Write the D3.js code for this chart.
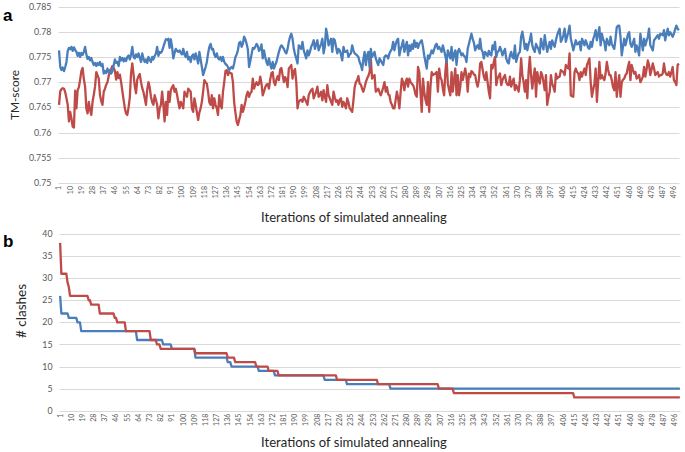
<!DOCTYPE html>
<html>
<head>
<meta charset="utf-8">
<script src="https://cdn.jsdelivr.net/npm/d3@7"></script>
<style>
  html, body { margin: 0; padding: 0; background: #fff; }
  svg { display: block; }
</style>
</head>
<body>
<svg id="chart" width="685" height="452"></svg>
<script>
// ---------------- DATA ----------------
const tmTicks = [0.75, 0.755, 0.76, 0.765, 0.77, 0.775, 0.78, 0.785];
const tmTickLabels = ["0.75", "0.755", "0.76", "0.765", "0.77", "0.775", "0.78", "0.785"];
const clashTicks = [0, 5, 10, 15, 20, 25, 30, 35, 40];
const xTickLabels = [1,10,19,28,37,46,55,64,73,82,91,100,109,118,127,136,145,154,163,172,181,190,199,208,217,226,235,244,253,262,271,280,289,298,307,316,325,334,343,352,361,370,379,388,397,406,415,424,433,442,451,460,469,478,487,496];

// TM-score, blue series (iterations 1..500)
const tmBlue = [
0.7763,0.7730,0.7724,0.7729,0.7722,0.7730,0.7740,0.7762,0.7768,0.7765,
0.7770,0.7762,0.7769,0.7764,0.7760,0.7752,0.7758,0.7750,0.7758,0.7754,
0.7760,0.7770,0.7755,0.7746,0.7750,0.7743,0.7748,0.7740,0.7734,0.7738,
0.7732,0.7738,0.7734,0.7740,0.7732,0.7736,0.7717,0.7722,0.7718,0.7727,
0.7720,0.7724,0.7717,0.7722,0.7733,0.7745,0.7738,0.7740,0.7732,0.7750,
0.7743,0.7748,0.7741,0.7747,0.7742,0.7750,0.7753,0.7745,0.7755,0.7770,
0.7750,0.7747,0.7755,0.7750,0.7757,0.7748,0.7740,0.7757,0.7746,0.7740,
0.7745,0.7738,0.7750,0.7744,0.7740,0.7750,0.7745,0.7752,0.7757,0.7770,
0.7752,0.7760,0.7758,
0.7762,0.7770,0.7778,0.7785,0.7784,0.7786,0.7768,0.7785,0.7770,0.7747,
0.7758,0.7766,0.7762,0.7760,0.7763,0.7758,0.7755,0.7766,0.7755,0.7750,
0.7760,0.7745,0.7750,0.7740,0.7752,0.7755,0.7745,0.7757,0.7748,0.7737,
0.7760,0.7745,0.7730,0.7714,0.7722,0.7730,0.7740,0.7757,0.7770,0.7776,
0.7765,0.7766,0.7755,0.7750,0.7757,0.7748,0.7745,0.7750,0.7742,0.7750,
0.7740,0.7736,0.7734,0.7730,0.7724,0.7728,0.7730,0.7727,0.7737,0.7750,
0.7755,0.7763,0.7778,0.7780,0.7770,0.7776,0.7790,0.7785,0.7776,0.7765,
0.7730,0.7742,0.7755,0.7768,0.7766,0.7770,0.7776,0.7772,0.7762,0.7765,
0.7775,0.7747,
0.7763,0.7750,0.7740,0.7734,0.7747,0.7735,0.7727,0.7740,0.7727,0.7734,
0.7740,0.7750,0.7760,0.7768,0.7773,0.7770,0.7766,0.7760,0.7757,0.7766,
0.7780,0.7790,0.7796,0.7786,0.7766,0.7755,0.7747,0.7737,0.7773,0.7770,
0.7766,0.7780,0.7763,0.7755,0.7747,0.7763,0.7753,0.7760,0.7770,0.7776,
0.7783,0.7766,0.7775,0.7783,0.7763,0.7770,0.7776,0.7786,0.7757,0.7770,
0.7806,0.7793,0.7773,0.7780,0.7786,0.7760,0.7786,0.7783,0.7770,0.7757,
0.7766,0.7763,0.7755,0.7743,0.7770,0.7760,0.7760,0.7763,0.7750,0.7755,
0.7757,0.7773,0.7763,0.7757,0.7755,0.7753,0.7750,0.7740,0.7734,0.7724,
0.7745,0.7760,0.7734,0.7753,0.7760,0.7730,
0.7766,0.7750,0.7755,0.7760,0.7747,0.7740,0.7734,0.7747,0.7743,0.7738,
0.7734,0.7750,0.7753,0.7752,0.7747,0.7757,0.7762,0.7766,0.7780,0.7763,
0.7775,0.7783,0.7786,0.7753,0.7765,0.7773,0.7783,0.7760,0.7770,0.7780,
0.7753,0.7773,0.7762,0.7775,0.7766,0.7783,0.7770,0.7778,0.7768,0.7776,
0.7780,0.7783,0.7770,0.7753,0.7740,0.7727,0.7753,0.7747,0.7755,0.7763,
0.7757,0.7765,0.7773,0.7776,0.7766,0.7770,0.7765,0.7760,0.7773,0.7763,
0.7752,0.7740,0.7763,0.7755,0.7747,0.7770,0.7743,0.7755,0.7763,0.7734,
0.7760,0.7766,0.7760,0.7753,0.7757,0.7752,0.7750,0.7740,0.7766,0.7776,
0.7786,0.7796,0.7786,0.7778,
0.7763,0.7770,0.7773,0.7766,0.7786,0.7765,0.7760,0.7747,0.7760,0.7757,
0.7752,0.7762,0.7755,0.7753,0.7773,0.7765,0.7780,0.7750,0.7760,0.7762,
0.7770,0.7763,0.7753,0.7760,0.7766,0.7747,0.7740,0.7737,0.7753,0.7760,
0.7750,0.7747,0.7773,0.7740,0.7750,0.7757,0.7760,0.7790,0.7800,0.7785,
0.7766,0.7776,0.7763,0.7775,0.7783,0.7796,0.7773,0.7765,0.7760,0.7776,
0.7770,0.7765,0.7757,0.7786,0.7773,0.7765,0.7793,0.7776,0.7760,0.7770,
0.7780,0.7766,0.7783,0.7775,0.7770,0.7783,0.7793,0.7800,0.7806,0.7780,
0.7785,0.7793,0.7806,0.7780,0.7790,0.7799,0.7812,0.7786,0.7775,0.7763,
0.7773,0.7783,0.7775,
0.7776,0.7780,0.7763,0.7786,0.7780,0.7773,0.7783,0.7776,0.7768,0.7766,
0.7780,0.7770,0.7785,0.7793,0.7803,0.7783,0.7795,0.7809,0.7773,0.7796,
0.7785,0.7780,0.7763,0.7786,0.7778,0.7773,0.7790,0.7776,0.7770,0.7766,
0.7786,0.7809,0.7812,0.7812,0.7790,0.7753,0.7770,0.7786,0.7773,0.7783,
0.7795,0.7799,0.7776,0.7770,0.7778,0.7786,0.7760,0.7773,0.7765,0.7753,
0.7796,0.7780,0.7763,0.7786,0.7773,0.7782,0.7790,0.7806,0.7773,0.7768,
0.7763,0.7783,0.7786,0.7790,0.7793,0.7786,0.7796,0.7795,0.7793,0.7803,
0.7783,0.7795,0.7806,0.7793,0.7799,0.7795,0.7790,0.7796,0.7805,0.7812,
0.7806,0.7803
];

// TM-score, red series (iterations 1..500)
const tmRed = [
0.7655,0.7682,0.7686,0.7688,0.7687,0.7680,0.7668,0.7655,0.7622,0.7641,
0.7628,0.7612,0.7610,0.7683,0.7648,0.7684,0.7690,0.7705,0.7722,0.7728,
0.7706,0.7691,0.7648,0.7638,0.7661,0.7645,0.7635,0.7661,0.7675,0.7691,
0.7720,0.7714,0.7707,0.7674,0.7662,0.7655,0.7681,0.7687,0.7695,0.7700,
0.7712,0.7722,0.7726,0.7732,0.7728,0.7722,0.7705,0.7720,0.7708,0.7715,
0.7700,0.7682,0.7665,0.7648,0.7638,0.7635,0.7650,0.7670,0.7718,0.7737,
0.7715,0.7692,0.7678,0.7705,0.7712,0.7716,0.7700,0.7688,0.7680,0.7668,
0.7655,0.7685,0.7700,0.7690,0.7671,0.7660,0.7655,0.7674,0.7665,0.7655,
0.7628,0.7648,0.7655,
0.7681,0.7655,0.7622,0.7661,0.7635,0.7681,0.7661,0.7684,0.7690,0.7694,
0.7681,0.7687,0.7675,0.7661,0.7648,0.7661,0.7655,0.7648,0.7681,0.7675,
0.7671,0.7687,0.7684,0.7681,0.7648,0.7641,0.7668,0.7655,0.7640,0.7625,
0.7640,0.7648,0.7661,0.7681,0.7704,0.7700,0.7697,0.7681,0.7660,0.7655,
0.7674,0.7648,0.7668,0.7655,0.7648,0.7635,0.7674,0.7655,0.7648,0.7681,
0.7700,0.7722,0.7724,0.7714,0.7720,0.7718,0.7717,0.7700,0.7660,0.7640,
0.7622,0.7615,0.7625,0.7635,0.7655,0.7641,0.7650,0.7661,0.7674,0.7681,
0.7671,0.7678,0.7681,0.7707,0.7687,0.7695,0.7700,0.7694,0.7697,0.7711,
0.7697,0.7674,
0.7681,0.7690,0.7695,0.7696,0.7687,0.7705,0.7718,0.7720,0.7700,0.7694,
0.7705,0.7712,0.7704,0.7725,0.7728,0.7714,0.7700,0.7710,0.7705,0.7690,
0.7727,0.7730,0.7734,0.7707,0.7722,0.7726,0.7700,0.7648,0.7661,0.7664,
0.7665,0.7661,0.7671,0.7666,0.7661,0.7655,0.7674,0.7680,0.7684,0.7687,
0.7668,0.7675,0.7681,0.7691,0.7671,0.7674,0.7681,0.7664,0.7684,0.7670,
0.7661,0.7694,0.7674,0.7668,0.7661,0.7655,0.7681,0.7670,0.7661,0.7664,
0.7655,0.7665,0.7668,0.7651,0.7661,0.7655,0.7648,0.7668,0.7660,0.7648,
0.7645,0.7641,0.7664,0.7690,0.7700,0.7704,0.7712,0.7697,0.7695,0.7687,
0.7681,0.7690,0.7700,0.7707,0.7712,0.7720,
0.7747,0.7707,0.7712,0.7714,0.7681,0.7684,0.7687,0.7680,0.7674,0.7681,
0.7690,0.7700,0.7681,0.7690,0.7676,0.7674,0.7660,0.7655,0.7648,0.7648,
0.7665,0.7681,0.7668,0.7648,0.7680,0.7707,0.7700,0.7684,0.7700,0.7707,
0.7691,0.7707,0.7700,0.7697,0.7694,0.7687,0.7675,0.7671,0.7730,0.7720,
0.7680,0.7641,0.7707,0.7681,0.7665,0.7655,0.7700,0.7641,0.7690,0.7720,
0.7714,0.7716,0.7717,0.7720,0.7681,0.7727,0.7710,0.7704,0.7687,0.7674,
0.7720,0.7747,0.7697,0.7685,0.7674,0.7720,0.7681,0.7705,0.7727,0.7674,
0.7714,0.7674,0.7690,0.7720,0.7704,0.7715,0.7727,0.7711,0.7681,0.7717,
0.7710,0.7722,0.7720,0.7715,
0.7714,0.7700,0.7691,0.7704,0.7737,0.7740,0.7725,0.7711,0.7704,0.7720,
0.7700,0.7681,0.7668,0.7734,0.7727,0.7740,0.7750,0.7694,0.7707,0.7712,
0.7717,0.7694,0.7704,0.7710,0.7714,0.7700,0.7695,0.7694,0.7711,0.7691,
0.7700,0.7707,0.7684,0.7694,0.7688,0.7681,0.7704,0.7747,0.7714,0.7700,
0.7681,0.7704,0.7668,0.7720,0.7750,0.7714,0.7687,0.7710,0.7727,0.7671,
0.7720,0.7705,0.7697,0.7720,0.7714,0.7700,0.7684,0.7714,0.7655,0.7670,
0.7681,0.7714,0.7697,0.7690,0.7681,0.7717,0.7707,0.7710,0.7711,0.7724,
0.7722,0.7720,0.7714,0.7734,0.7730,0.7727,0.7757,0.7674,0.7672,0.7671,
0.7720,0.7727,0.7720,
0.7717,0.7704,0.7720,0.7711,0.7720,0.7727,0.7714,0.7734,0.7740,0.7747,
0.7700,0.7671,0.7685,0.7697,0.7727,0.7661,0.7700,0.7740,0.7707,0.7714,
0.7708,0.7704,0.7717,0.7740,0.7725,0.7714,0.7714,0.7704,0.7690,0.7684,
0.7720,0.7671,0.7695,0.7714,0.7671,0.7700,0.7705,0.7707,0.7714,0.7717,
0.7730,0.7740,0.7704,0.7734,0.7725,0.7717,0.7720,0.7707,0.7710,0.7714,
0.7700,0.7705,0.7711,0.7730,0.7711,0.7725,0.7743,0.7734,0.7714,0.7725,
0.7737,0.7727,0.7714,0.7717,0.7720,0.7711,0.7714,0.7714,0.7717,0.7737,
0.7720,0.7715,0.7714,0.7720,0.7711,0.7720,0.7730,0.7704,0.7700,0.7694,
0.7734,0.7737
];

// # clashes: step runs (first iteration of each level, and the level)
const clashBlueStart = [1, 2, 8, 15, 18, 63, 84, 91, 110, 136, 139, 161, 174, 214, 232, 267];
const clashBlueValue = [26, 22, 21, 20, 18, 16, 15, 14, 12, 11, 10, 9, 8, 7, 6, 5];
const clashRedStart = [1, 2, 7, 8, 9, 24, 26, 33, 45, 47, 54, 74, 79, 82, 110, 136, 142, 159, 169, 177, 224, 257, 306, 318, 415];
const clashRedValue = [38, 31, 29, 28, 26, 25, 24, 22, 21, 20, 18, 16, 15, 14, 13, 12, 11, 10, 9, 8, 7, 6, 5, 4, 3];
const lastIteration = 500;

// ---------------- DRAWING ----------------
const BLUE = "#4A7EBB", RED = "#BE4B48", GRID = "#D9D9D9", TXT = "#595959";
const FONT = "Lato, 'Open Sans', sans-serif";
const iterations = d3.range(1, lastIteration + 1);
const svg = d3.select("#chart");

function fitText(sel, width) {
  const n = sel.node();
  const cur = parseFloat(sel.attr("font-size"));
  const w = n.getComputedTextLength();
  if (w > 0) sel.attr("font-size", (cur * width / w).toFixed(2));
}

function stepPoints(starts, values) {
  const pts = [];
  starts.forEach((s, k) => {
    const end = k < starts.length - 1 ? starts[k + 1] - 1 : lastIteration;
    pts.push([s, values[k]]);
    if (end > s) pts.push([end, values[k]]);
  });
  return pts;
}

function panel(cfg) {
  const g = svg.append("g");
  const x = d3.scalePoint().domain(iterations).range([cfg.left, cfg.right]).padding(0.5);
  const y = d3.scaleLinear().domain(cfg.domain).range([cfg.bottom, cfg.top]);

  // gridlines
  g.append("g").selectAll("line").data(cfg.ticks).join("line")
    .attr("x1", cfg.left).attr("x2", cfg.right)
    .attr("y1", d => Math.round(y(d)) + 0.5).attr("y2", d => Math.round(y(d)) + 0.5)
    .attr("stroke", GRID).attr("stroke-width", 1);

  // y tick labels
  g.append("g").selectAll("text").data(cfg.ticks).join("text")
    .attr("x", cfg.left - 7).attr("y", d => y(d))
    .attr("dy", "0.35em").attr("text-anchor", "end")
    .attr("font-family", FONT).attr("font-size", 8.8).attr("fill", TXT)
    .text((d, i) => cfg.tickLabels[i]);

  // x tick labels (rotated)
  g.append("g").selectAll("text").data(xTickLabels).join("text")
    .attr("transform", d => `translate(${x(d)},${cfg.bottom + 3}) rotate(-90)`)
    .attr("dy", "0.35em").attr("text-anchor", "end")
    .attr("font-family", FONT).attr("font-size", 7).attr("fill", TXT)
    .text(d => d);

  // lines
  const line = d3.line().x(d => x(d[0])).y(d => y(d[1]));
  cfg.series.forEach(s => {
    g.append("path").datum(s.points).attr("d", line)
      .attr("fill", "none").attr("stroke", s.color)
      .attr("stroke-width", 2.3).attr("stroke-linejoin", "round");
  });

  // axis titles
  const yt = g.append("text")
    .attr("transform", `translate(${cfg.yTitleX},${cfg.yTitleY}) rotate(-90)`)
    .attr("text-anchor", "middle").attr("dy", "0.35em")
    .attr("font-family", FONT).attr("font-size", 13).attr("fill", "#262626")
    .text(cfg.yTitle);
  fitText(yt, cfg.yTitleW);

  const xt = g.append("text")
    .attr("x", 354).attr("y", cfg.xTitleY).attr("dy", "0.35em")
    .attr("text-anchor", "middle")
    .attr("font-family", FONT).attr("font-size", 13).attr("fill", "#262626")
    .text("Iterations of simulated annealing");
  fitText(xt, 186);

  g.append("text").attr("x", 3).attr("y", cfg.letterY)
    .attr("font-family", "Liberation Sans, Arial, sans-serif").attr("font-weight", "bold")
    .attr("font-size", 17).attr("fill", "#000").text(cfg.letter);
}

panel({
  left: 58.4, right: 679.5, top: 6.5, bottom: 183,
  domain: [0.75, 0.785], ticks: tmTicks, tickLabels: tmTickLabels,
  series: [
    { color: RED, points: tmRed.map((v, i) => [iterations[i], v]) },
    { color: BLUE, points: tmBlue.map((v, i) => [iterations[i], v]) }
  ],
  yTitle: "TM-score", yTitleX: 15, yTitleY: 95, yTitleW: 50,
  xTitleY: 217, letter: "a", letterY: 21
});

panel({
  left: 59.5, right: 680.5, top: 234, bottom: 410.7,
  domain: [0, 40], ticks: clashTicks, tickLabels: clashTicks.map(String),
  series: [
    { color: BLUE, points: stepPoints(clashBlueStart, clashBlueValue) },
    { color: RED, points: stepPoints(clashRedStart, clashRedValue) }
  ],
  yTitle: "# clashes", yTitleX: 21, yTitleY: 311, yTitleW: 54,
  xTitleY: 442, letter: "b", letterY: 247
});
</script>
</body>
</html>
